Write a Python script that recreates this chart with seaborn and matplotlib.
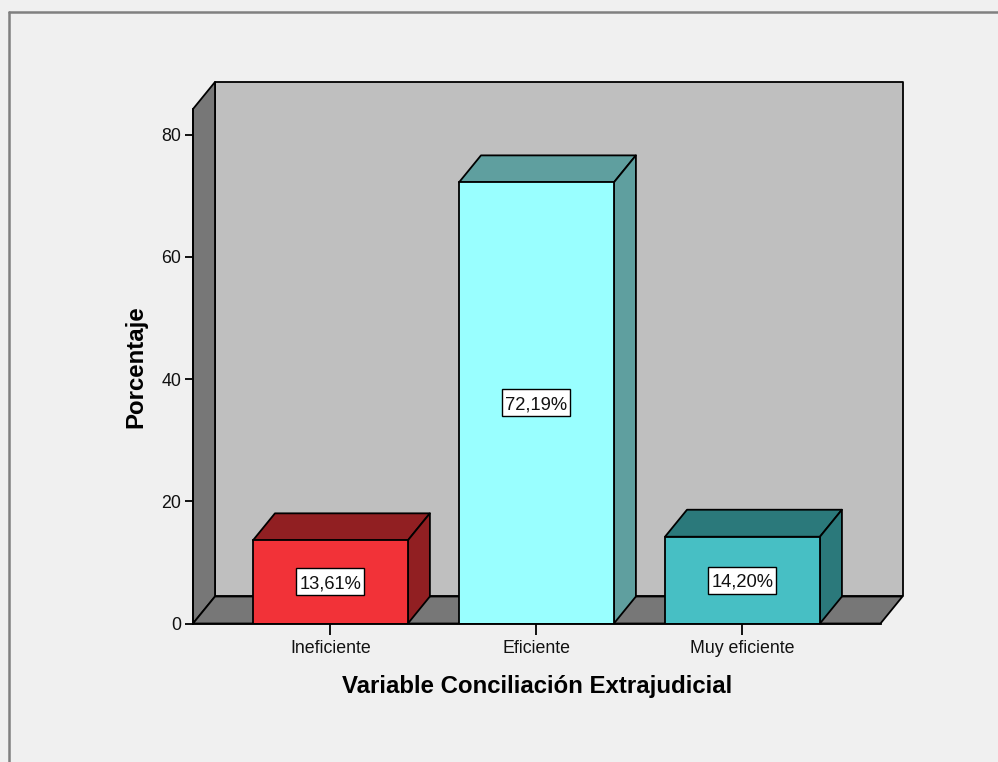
import matplotlib
matplotlib.use("Agg")
import matplotlib.pyplot as plt
import pandas as pd
import seaborn as sns
from matplotlib.lines import Line2D
from matplotlib.patches import Polygon, Rectangle

# data
categories = ["Ineficiente", "Eficiente", "Muy eficiente"]
percentages = [13.61, 72.19, 14.20]
y_ticks = [0, 20, 40, 60, 80]

# colours
front_colors = ["#f23238", "#99ffff", "#47bfc4"]
shade_colors = ["#911f22", "#5f9f9f", "#2b797b"]
BG = "#f0f0f0"
WALL = "#bfbfbf"
SIDE = "#777777"
LW = 1.3

W, H = 998, 762

sns.set_theme(style="ticks")
plt.rcParams["font.family"] = ["Liberation Sans", "DejaVu Sans"]

df = pd.DataFrame({"categoria": categories, "porcentaje": percentages})

fig = plt.figure(figsize=(W / 100, H / 100), dpi=100, facecolor=BG)
ax = fig.add_axes([193 / W, (H - 623.5) / H, 687.5 / W, 514.5 / H])
ax.set_facecolor("none")

sns.barplot(
    data=df, x="categoria", y="porcentaje", hue="categoria",
    palette=front_colors, saturation=1, width=0.752, legend=False,
    edgecolor="black", linewidth=LW, ax=ax, zorder=3,
)

ax.set_xlim(-0.667, 2.670)
ax.set_ylim(0, 84.2)

# depth of the fake 3D, in data units (22 px right, 27 px up)
dx = 22 / 206
dy = 27 / 6.11
# value box size, data units (68 x 27 px)
box_w = 68 / 206
box_h = 27 / 6.11


def face(points, color, z):
    ax.add_patch(Polygon(points, closed=True, facecolor=color, edgecolor="black",
                         linewidth=LW, clip_on=False, zorder=z, joinstyle="round"))


# back wall, left wall, floor
x0, x1 = ax.get_xlim()
y0, y1 = ax.get_ylim()
face([(x0 + dx, y0 + dy), (x1 + dx, y0 + dy), (x1 + dx, y1 + dy), (x0 + dx, y1 + dy)], WALL, 0.5)
face([(x0, y0), (x0 + dx, y0 + dy), (x0 + dx, y1 + dy), (x0, y1)], SIDE, 0.6)
face([(x0, y0), (x1, y0), (x1 + dx, y0 + dy), (x0 + dx, y0 + dy)], SIDE, 0.6)

# top and side of every bar, taken from the bars seaborn drew
for container, shade, value in zip(ax.containers, shade_colors, percentages):
    bar = container[0]
    left, right = bar.get_x(), bar.get_x() + bar.get_width()
    top = bar.get_height()
    face([(left, top), (right, top), (right + dx, top + dy), (left + dx, top + dy)], shade, 2)
    face([(right, 0), (right + dx, dy), (right + dx, top + dy), (right, top)], shade, 2)
    mid_x = (left + right) / 2
    mid_y = top / 2
    ax.add_patch(Rectangle((mid_x - box_w / 2, mid_y - box_h / 2), box_w, box_h,
                           facecolor="white", edgecolor="black", linewidth=1.0, zorder=5))
    ax.text(mid_x, mid_y, f"{value:.2f}%".replace(".", ","), ha="center",
            va="center_baseline", fontsize=13.2, color="#111111", zorder=6)

ax.set_yticks(y_ticks)
ax.tick_params(axis="y", length=6, width=LW, labelsize=12.8, pad=2.5, color="black", labelcolor="#111111")
ax.tick_params(axis="x", length=8, width=LW, labelsize=12.8, pad=4, color="black", labelcolor="#111111")

ax.set_xlabel("Variable Conciliación Extrajudicial", fontsize=17.3, fontweight="bold",
              color="black", labelpad=12.5)
ax.set_ylabel("Porcentaje", fontsize=17.3, fontweight="bold", color="black", labelpad=10)

sns.despine(ax=ax)
for side in ["left", "bottom"]:
    ax.spines[side].set_linewidth(LW)
    ax.spines[side].set_color("black")
    ax.spines[side].set_zorder(4)

# window frame, top and left only
frame = "#808080"
fig.add_artist(Line2D([9 / W, 1], [1 - 12 / H, 1 - 12 / H], color=frame, lw=1.8))
fig.add_artist(Line2D([9 / W, 9 / W], [0, 1 - 12 / H], color=frame, lw=1.8))

fig.savefig("out.png", dpi=100, facecolor=BG)
